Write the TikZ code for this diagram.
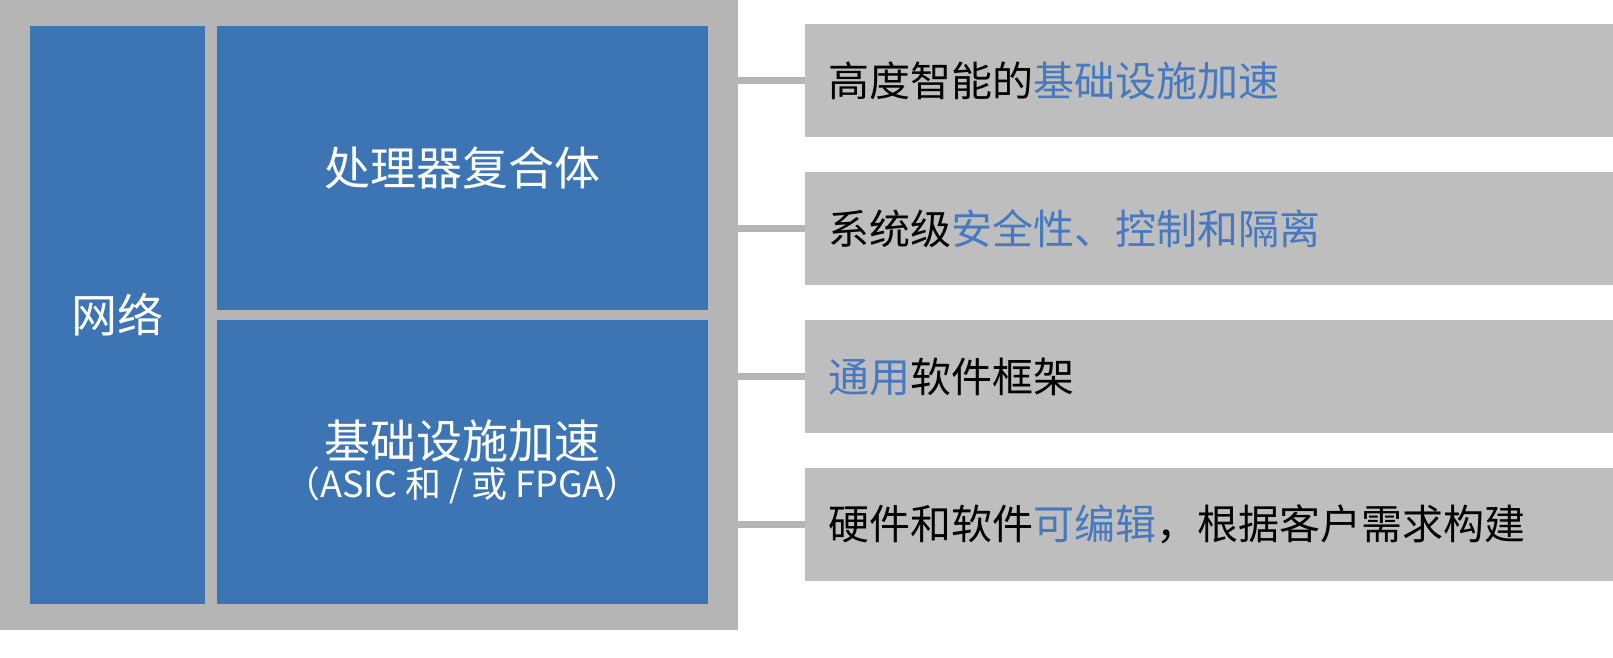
\documentclass[tikz,border=0pt]{standalone}
\usepackage{fontspec}
\setmainfont{Noto Sans CJK SC}
\definecolor{outg}{HTML}{B5B5B5}
\definecolor{barg}{HTML}{BEBEBE}
\definecolor{blu}{HTML}{3C74B4}
\definecolor{tblu}{HTML}{4679C0}
\begin{document}
\begin{tikzpicture}[x=1pt,y=-1pt,
 every node/.style={outer sep=0pt},
 bluebox/.style={fill=blu,draw=none,text=white,align=center,anchor=north west,inner sep=0},
 bar/.style={fill=barg,draw=none,anchor=north west,minimum width=808pt,minimum height=113pt,inner sep=0},
 bartext/.style={anchor=west,inner sep=0,font=\fontsize{41}{46}\selectfont},
 link/.style={draw=outg,line width=7pt}]
\useasboundingbox[clip] (0,0) rectangle (1613,658);
\node[fill=outg,draw=none,anchor=north west,minimum width=738pt,minimum height=630pt,inner sep=0] (outer) at (0,0) {};
\node[bluebox,minimum width=175pt,minimum height=578pt,font=\fontsize{46}{50}\selectfont] (net) at (30,26) {网络};
\node[bluebox,minimum width=491pt,minimum height=284pt,font=\fontsize{46}{50}\selectfont] (cpu) at (217,26) {处理器复合体};
\node[bluebox,minimum width=491pt,minimum height=284pt] (acc) at (217,320) {{\fontsize{46}{50}\selectfont 基础设施加速}\\[4pt]{\fontsize{36}{42}\selectfont （ASIC 和 / 或 FPGA）}};
\node[bar] (b1) at (805,24) {};
\node[bar] (b2) at (805,172) {};
\node[bar] (b3) at (805,320) {};
\node[bar] (b4) at (805,468) {};
\node[bartext] (t1) at ([xshift=23pt]b1.west) {高度智能的\textcolor{tblu}{基础设施加速}};
\node[bartext] (t2) at ([xshift=23pt]b2.west) {系统级\textcolor{tblu}{安全性、控制和隔离}};
\node[bartext] (t3) at ([xshift=23pt]b3.west) {\textcolor{tblu}{通用}软件框架};
\node[bartext] (t4) at ([xshift=23pt]b4.west) {硬件和软件\textcolor{tblu}{可编辑}，根据客户需求构建};
\foreach \b in {b1,b2,b3,b4}
  \draw[link] (outer.east |- \b.west) -- (\b.west);
\end{tikzpicture}
\end{document}
